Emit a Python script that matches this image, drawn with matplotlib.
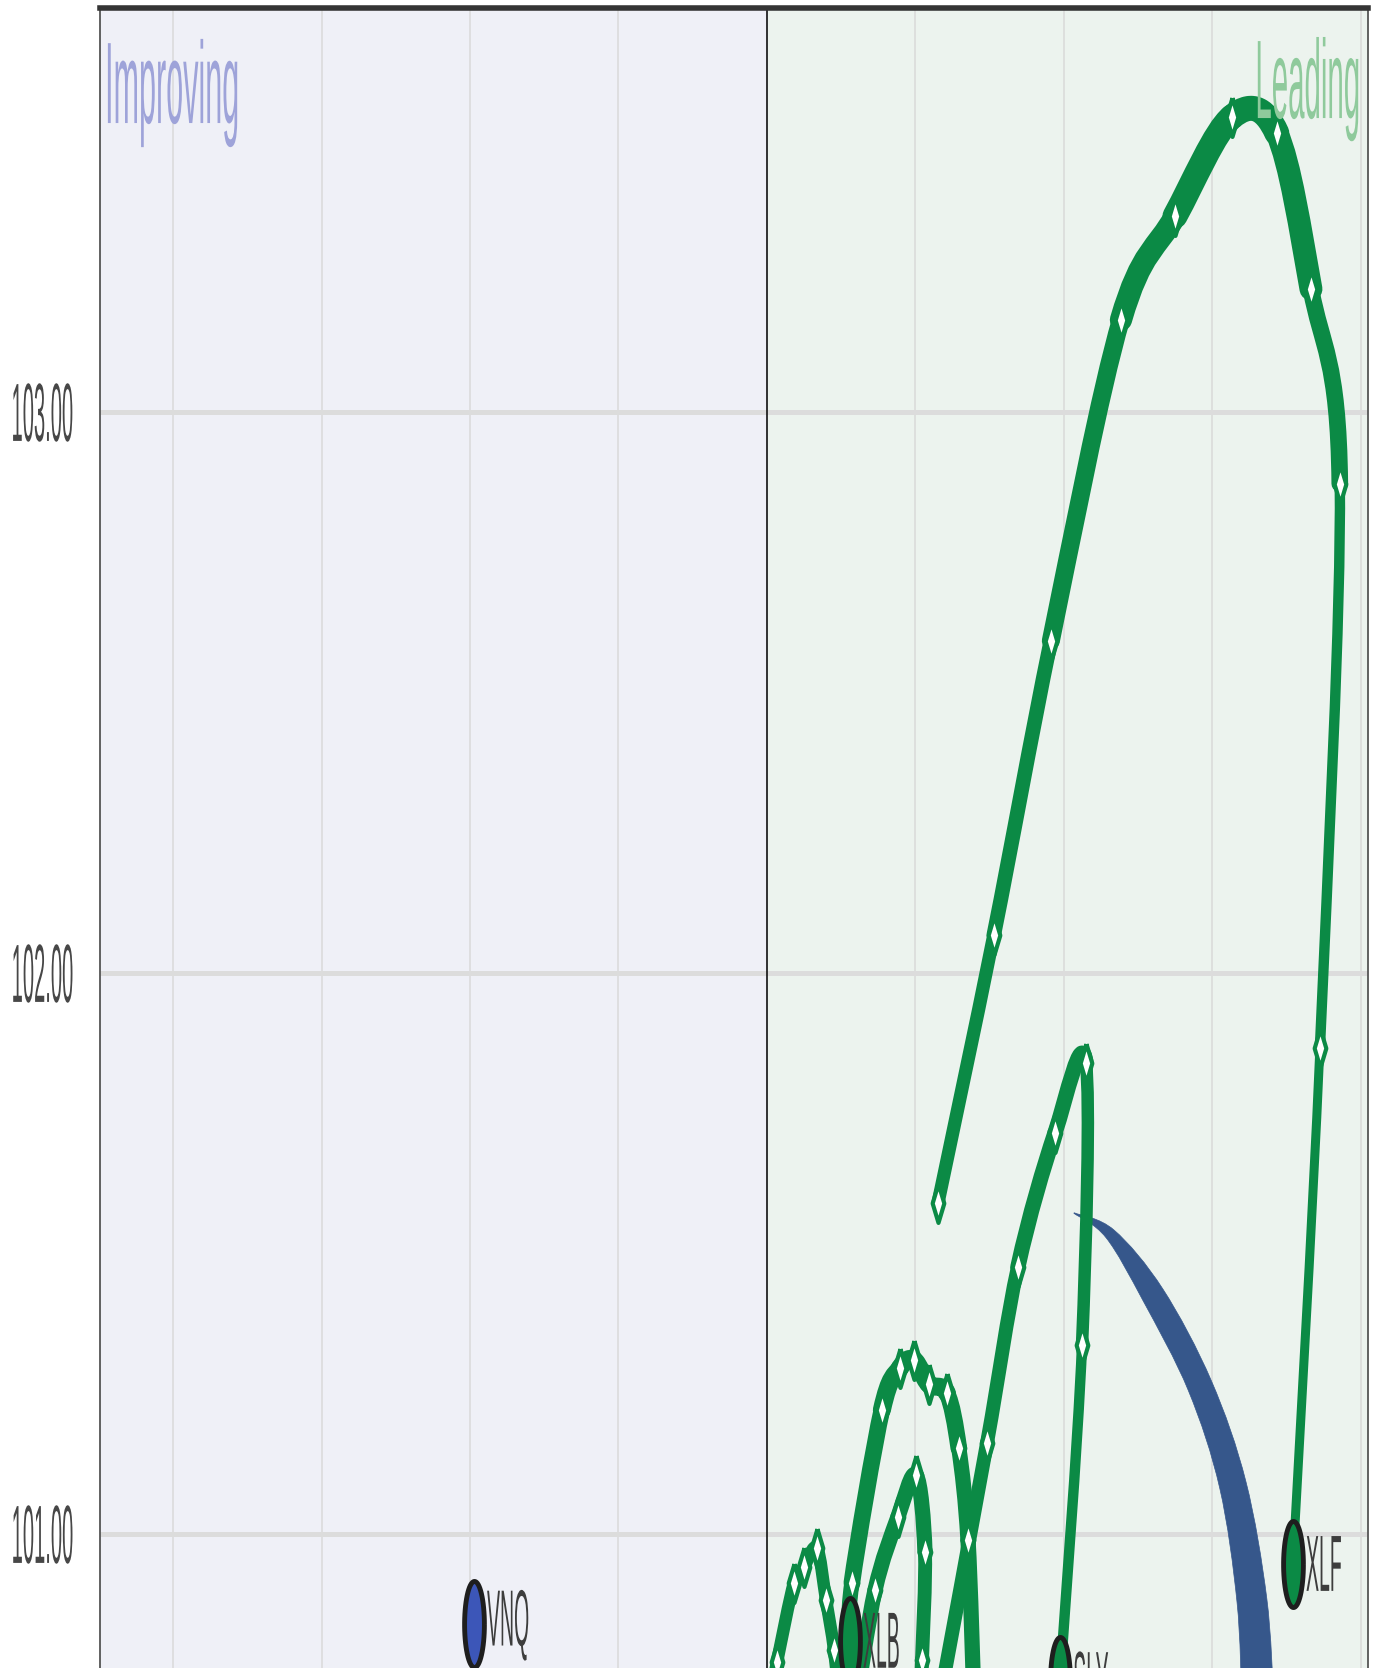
import numpy as np
import matplotlib
matplotlib.use("Agg")
import matplotlib.pyplot as plt
from matplotlib.patches import PathPatch
from matplotlib.path import Path
from matplotlib.patheffects import AbstractPathEffect
from matplotlib.transforms import Affine2D

# ---------------- data ----------------
y_ticks = [101.0, 102.0, 103.0]
y_tick_labels = ["101.00", "102.00", "103.00"]
x_grid = [98.0, 98.5, 99.0, 99.5, 100.5, 101.0, 101.5, 102.0]
x_center = 100.0
x_limits = (97.754, 102.024)
y_limits = (100.761, 103.720)

xlf_x = [100.576, 100.764, 100.956, 101.192, 101.374, 101.566, 101.717, 101.832, 101.929, 101.862, 101.771]
xlf_y = [101.590, 102.068, 102.592, 103.164, 103.349, 103.526, 103.497, 103.219, 102.872, 101.866, 100.947]

sly_x = [100.582, 100.741, 100.845, 100.970, 101.074, 101.061, 100.987]
sly_y = [100.704, 101.162, 101.476, 101.715, 101.840, 101.337, 100.740]

xlb_x = [100.697, 100.677, 100.646, 100.606, 100.545, 100.495, 100.448, 100.387, 100.286, 100.279]
xlb_y = [100.704, 100.989, 101.153, 101.251, 101.267, 101.310, 101.296, 101.221, 100.913, 100.810]

trail_d_x = [100.296, 100.364, 100.441, 100.502, 100.532, 100.522, 100.515]
trail_d_y = [100.686, 100.900, 101.030, 101.105, 100.968, 100.775, 100.686]

trail_e_x = [100.003, 100.034, 100.091, 100.125, 100.168, 100.199, 100.226, 100.246]
trail_e_y = [100.686, 100.772, 100.913, 100.941, 100.975, 100.882, 100.793, 100.686]

blue_x = [101.034, 101.155, 101.300, 101.458, 101.569, 101.633, 101.653]
blue_y = [101.572, 101.535, 101.426, 101.264, 101.087, 100.882, 100.704]

vnq_x = [99.013]
vnq_y = [100.840]

head_names = ["XLF", "SLY", "XLB", "VNQ"]
quadrant_labels = ["Improving", "Leading"]

# ---------------- styles ----------------
GREEN = "#0b8a45"
BLUE_TAIL = "#36578b"
BLUE_HEAD = "#3c56b8"
BG_LEFT = "#eff0f7"
BG_RIGHT = "#ecf3ee"
FONT = ["Liberation Sans", "DejaVu Sans"]
plt.rcParams["font.family"] = FONT


class VStretch(AbstractPathEffect):
    """Stretch text glyphs vertically (the reference is a squeezed screenshot)."""

    def __init__(self, sy, anchor="baseline"):
        super().__init__()
        self.sy = sy
        self.anchor = anchor

    def draw_path(self, renderer, gc, tpath, affine, rgbFace=None):
        m = affine.get_matrix()
        if self.anchor == "center":
            ext = tpath.get_extents()
            cy = affine.transform([[0.0, (ext.y0 + ext.y1) / 2.0]])[0][1]
        else:
            cy = m[1, 2]
        tr = affine + Affine2D().translate(0, -cy).scale(1, self.sy).translate(0, cy)
        renderer.draw_path(gc, tpath, tr, rgbFace)


W, H = 1381, 1668
fig = plt.figure(figsize=(W / 100, H / 100), dpi=100)
ax = fig.add_axes([100 / W, 0.0, 1268 / W, 1 - 8 / H])
ax.set_xlim(*x_limits)
ax.set_ylim(*y_limits)

# quadrant backgrounds
ax.axvspan(x_limits[0], x_center, color=BG_LEFT, zorder=0, lw=0)
ax.axvspan(x_center, x_limits[1], color=BG_RIGHT, zorder=0, lw=0)

# grid
for gx in x_grid:
    ax.axvline(gx, color="#d9d9d9", lw=1.1, zorder=1)
for gy in y_ticks:
    ax.axhline(gy, color="#dcdcdc", lw=3.6, zorder=1)
ax.axvline(x_center, color="#111111", lw=1.2, zorder=1.5)

# spines
ax.spines["bottom"].set_visible(False)
ax.spines["top"].set_linewidth(4.0)
ax.spines["top"].set_color("#343434")
for s in ["left", "right"]:
    ax.spines[s].set_linewidth(1.3)
    ax.spines[s].set_color("#555555")
    ax.spines[s].set_linestyle((0, (2, 1)))

ax.set_xticks([])
ax.set_yticks(y_ticks, labels=y_tick_labels)
ax.tick_params(axis="y", length=0, pad=19.5, labelsize=14.5, labelcolor="#474747")
for lab in ax.get_yticklabels():
    lab.set_path_effects([VStretch(4.1, "center")])


def bezier_controls(P):
    """Catmull-Rom tangents -> cubic Bezier control points for each segment."""
    P = np.asarray(P, dtype=float)
    n = len(P)
    ctrl = []
    for i in range(n - 1):
        p_prev = P[i - 1] if i > 0 else P[i]
        p_next2 = P[i + 2] if i + 2 < n else P[i + 1]
        c1 = P[i] + (P[i + 1] - p_prev) / 6.0
        c2 = P[i + 1] - (p_next2 - P[i]) / 6.0
        ctrl.append((c1, c2))
    return P, ctrl


def draw_trail(xs, ys, widths, color, z):
    P, ctrl = bezier_controls(np.column_stack([xs, ys]))
    for i, (c1, c2) in enumerate(ctrl):
        path = Path([P[i], c1, c2, P[i + 1]],
                    [Path.MOVETO, Path.CURVE4, Path.CURVE4, Path.CURVE4])
        ax.add_patch(PathPatch(path, fill=False, edgecolor=color, lw=widths[i],
                               capstyle="round", joinstyle="round", zorder=z))


def draw_tapered(xs, ys, half_widths_px, color, z):
    D = ax.transData.transform(np.column_stack([xs, ys]))
    n = len(D)
    left, right = [], []
    for i in range(n):
        a = D[max(i - 1, 0)]
        b = D[min(i + 1, n - 1)]
        t = b - a
        t = t / np.hypot(*t)
        nrm = np.array([-t[1], t[0]])
        left.append(D[i] + nrm * half_widths_px[i])
        right.append(D[i] - nrm * half_widths_px[i])
    inv = ax.transData.inverted()
    L, cl = bezier_controls(inv.transform(np.array(left)))
    R, cr = bezier_controls(inv.transform(np.array(right[::-1])))
    verts, codes = [L[0]], [Path.MOVETO]
    for i, (c1, c2) in enumerate(cl):
        verts += [c1, c2, L[i + 1]]
        codes += [Path.CURVE4] * 3
    verts.append(R[0]); codes.append(Path.LINETO)
    for i, (c1, c2) in enumerate(cr):
        verts += [c1, c2, R[i + 1]]
        codes += [Path.CURVE4] * 3
    verts.append(L[0]); codes.append(Path.CLOSEPOLY)
    ax.add_patch(PathPatch(Path(verts, codes), facecolor=color, edgecolor=color,
                           lw=0.5, zorder=z))


diamond = [(0, 1), (0.3, 0), (0, -1), (-0.3, 0), (0, 1)]


def draw_markers(xs, ys):
    ax.plot(xs, ys, ls="none", marker=diamond, markersize=28, markerfacecolor="white",
            markeredgecolor=GREEN, markeredgewidth=3.0, zorder=4)


# blue tapered tail
draw_tapered(blue_x, blue_y, [0.3, 5.5, 11.5, 12.5, 13.5, 15, 16], BLUE_TAIL, 2)

# green trails
draw_trail(trail_e_x, trail_e_y, [9] * 7, GREEN, 3)
draw_trail(trail_d_x, trail_d_y, [11, 11, 11, 11, 10, 10], GREEN, 3)
draw_trail(xlb_x, xlb_y, [11, 11, 12, 13, 13, 13, 13, 12, 11], GREEN, 3)
draw_trail(sly_x, sly_y, [10, 10, 11, 11, 9, 7.5], GREEN, 3)
draw_trail(xlf_x, xlf_y, [9.5, 10.5, 13, 16, 18, 18, 16.5, 12, 7.5, 6.5], GREEN, 3)

draw_markers(trail_e_x, trail_e_y)
draw_markers(trail_d_x, trail_d_y)
draw_markers(xlb_x[:-1], xlb_y[:-1])
draw_markers(sly_x[:-1], sly_y[:-1])
draw_markers(xlf_x[:-1], xlf_y[:-1])

# heads
t = np.linspace(0, 2 * np.pi, 64)
ellipse = list(zip(0.23 * np.cos(t), np.sin(t)))
heads = [
    (xlf_x[-1], xlf_y[-1], GREEN),
    (sly_x[-1], sly_y[-1], GREEN),
    (xlb_x[-1], xlb_y[-1], GREEN),
    (vnq_x[0], vnq_y[0], BLUE_HEAD),
]
for name, (hx, hy, col) in zip(head_names, heads):
    ax.plot([hx], [hy], ls="none", marker=ellipse, markersize=62, markerfacecolor=col,
            markeredgecolor="#1e1e1e", markeredgewidth=3.5, zorder=6)
    a = ax.annotate(name, (hx, hy), xytext=(9.5, 0), textcoords="offset points",
                    ha="left", va="center_baseline", fontsize=14, color="#3d3d3d",
                    zorder=7, annotation_clip=False)
    a.set_path_effects([VStretch(4.1, "center")])

# quadrant labels
t1 = ax.text(0.004, 0.9307, quadrant_labels[0], transform=ax.transAxes, ha="left",
             va="baseline", fontsize=22, color="#9ea3d9", zorder=5)
t1.set_path_effects([VStretch(3.8)])
t2 = ax.text(0.9937, 0.9337, quadrant_labels[1], transform=ax.transAxes, ha="right",
             va="baseline", fontsize=21.2, color="#8fca9c", zorder=5)
t2.set_path_effects([VStretch(3.8)])

fig.savefig("out.png", dpi=100)
